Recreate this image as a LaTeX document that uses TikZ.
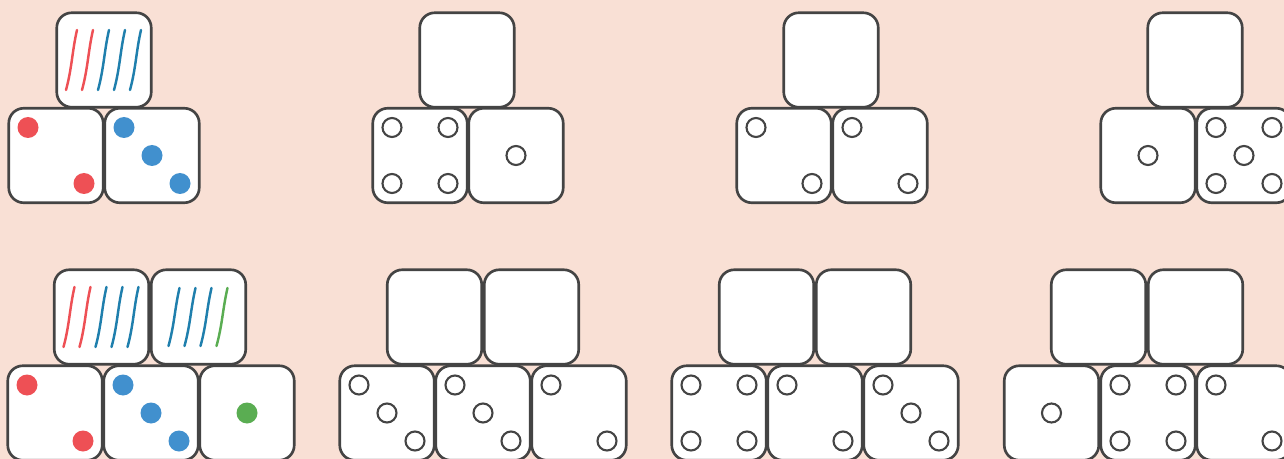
\documentclass[tikz,border=0pt]{standalone}
\usepackage{tikz}
\usetikzlibrary{positioning}
\definecolor{paper}{HTML}{F9E0D5}
\definecolor{edge}{HTML}{444444}
\definecolor{pipred}{HTML}{EE5055}
\definecolor{pipblue}{HTML}{4190CE}
\definecolor{pipgreen}{HTML}{5AAD52}
\definecolor{markblue}{HTML}{1F7FAD}
\tikzstyle{die}   = [rectangle, draw=edge, fill=white, line width=1.5pt, rounded corners=0.3cm, minimum size=1.89cm, inner sep=0pt]
\tikzstyle{hole}  = [draw=edge, fill=white, line width=1.2pt]
\tikzstyle{tally} = [line width=1.4pt, line cap=round]

\begin{document}
\begin{tikzpicture}[x=0.02cm, y=-0.02cm]
    \fill[paper] (0,0) rectangle (1284,459);
    \useasboundingbox (0,0) rectangle (1284,459);

    % top row: one tally die over two dice
    \node (t1)  at (104,60)     [die] {};
    \node (b1l) at (56,155.5)   [die] {};
    \node (b1r) at (152,155.5)  [die] {};
    \node (t2)  at (467,60)     [die] {};
    \node (b2l) at (420,155.5)  [die] {};
    \node (b2r) at (516,155.5)  [die] {};
    \node (t3)  at (831,60)     [die] {};
    \node (b3l) at (784,155.5)  [die] {};
    \node (b3r) at (880,155.5)  [die] {};
    \node (t4)  at (1195,60)    [die] {};
    \node (b4l) at (1148,155.5) [die] {};
    \node (b4r) at (1244,155.5) [die] {};

    % bottom row: two tally dice over three dice
    \node (s1a) at (101.5,317)  [die] {};
    \node (s1b) at (198.5,317)  [die] {};
    \node (f1a) at (55,413)     [die] {};
    \node (f1b) at (151,413)    [die] {};
    \node (f1c) at (247,413)    [die] {};
    \node (s2a) at (434.5,317)  [die] {};
    \node (s2b) at (531.5,317)  [die] {};
    \node (f2a) at (387,413)    [die] {};
    \node (f2b) at (483,413)    [die] {};
    \node (f2c) at (579,413)    [die] {};
    \node (s3a) at (766.5,317)  [die] {};
    \node (s3b) at (863.5,317)  [die] {};
    \node (f3a) at (719,413)    [die] {};
    \node (f3b) at (815,413)    [die] {};
    \node (f3c) at (911,413)    [die] {};
    \node (s4a) at (1098.5,317) [die] {};
    \node (s4b) at (1195.5,317) [die] {};
    \node (f4a) at (1051.5,413) [die] {};
    \node (f4b) at (1148,413)   [die] {};
    \node (f4c) at (1244,413)   [die] {};

    % coloured pips
    \foreach \d/\a/\b/\c in {b1l/-28/-28/pipred, b1l/28/28/pipred,
                             b1r/-28/-28/pipblue, b1r/0/0/pipblue, b1r/28/28/pipblue,
                             f1a/-28/-28/pipred, f1a/28/28/pipred,
                             f1b/-28/-28/pipblue, f1b/0/0/pipblue, f1b/28/28/pipblue,
                             f1c/0/0/pipgreen}
        \fill[\c] ([shift={(\a,\b)}]\d.center) circle[radius=10.5];

    % empty pips
    \foreach \d/\a/\b in {b2l/-28/-28, b2l/28/-28, b2l/-28/28, b2l/28/28, b2r/0/0,
                          b3l/-28/-28, b3l/28/28, b3r/-28/-28, b3r/28/28,
                          b4l/0/0, b4r/-28/-28, b4r/28/-28, b4r/0/0, b4r/-28/28, b4r/28/28,
                          f2a/-28/-28, f2a/0/0, f2a/28/28, f2b/-28/-28, f2b/0/0, f2b/28/28,
                          f2c/-28/-28, f2c/28/28,
                          f3a/-28/-28, f3a/28/-28, f3a/-28/28, f3a/28/28,
                          f3b/-28/-28, f3b/28/28, f3c/-28/-28, f3c/0/0, f3c/28/28,
                          f4a/0/0, f4b/-28/-28, f4b/28/-28, f4b/-28/28, f4b/28/28,
                          f4c/-28/-28, f4c/28/28}
        \draw[hole] ([shift={(\a,\b)}]\d.center) circle[radius=9.5];

    % tally marks
    \foreach \d/\i/\c in {t1/0/pipred, t1/1/pipred, t1/2/markblue, t1/3/markblue, t1/4/markblue,
                          s1a/0/pipred, s1a/1/pipred, s1a/2/markblue, s1a/3/markblue, s1a/4/markblue}
        \draw[tally, \c] ([shift={(-38+16*\i,30)}]\d.center)
            .. controls +(6,-22) and +(-5,22) .. ([shift={(-27+16*\i,-30)}]\d.center);
    \foreach \i/\c in {0/markblue, 1/markblue, 2/markblue, 3/pipgreen}
        \draw[tally, \c] ([shift={(-30+16*\i,29)}]s1b.center)
            .. controls +(6,-22) and +(-5,22) .. ([shift={(-19+16*\i,-29)}]s1b.center);
\end{tikzpicture}
\end{document}
